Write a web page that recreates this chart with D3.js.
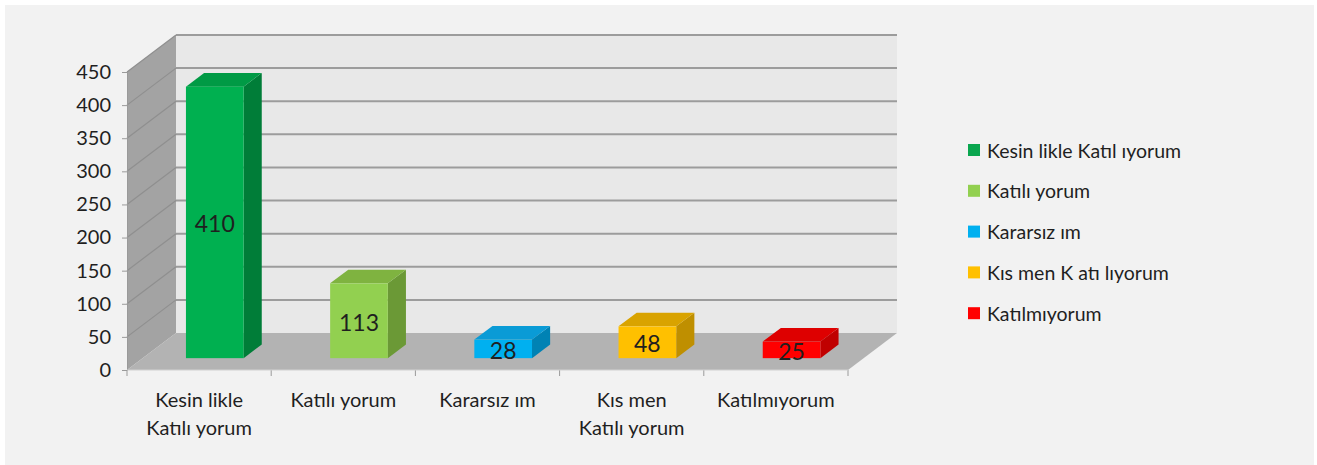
<!DOCTYPE html>
<html><head><meta charset="utf-8">
<script src="https://cdn.jsdelivr.net/npm/d3@7"></script>
<style>
body{margin:0;background:#fff}
svg{display:block}
text{font-family:Lato, "Open Sans", sans-serif;fill:#1f1f1f}
</style>
</head><body>
<svg id="c" width="1317" height="465"></svg>
<script>
// ---- data ----
const categories = [["Kesin likle","Katılı yorum"],["Katılı yorum"],["Kararsız ım"],["Kıs men","Katılı yorum"],["Katılmıyorum"]];
const values = [410, 113, 28, 48, 25];
const legendLabels = ["Kesin likle Katıl ıyorum","Katılı yorum","Kararsız ım","Kıs men K atı lıyorum","Katılmıyorum"];
const yTickValues = [0, 50, 100, 150, 200, 250, 300, 350, 400, 450];

// ---- styles ----
const frontColors = ["#00b050","#92d050","#00b0f0","#ffc000","#ff0000"];
const topColors   = ["#009a45","#7fb340","#0a9bd6","#d9a300","#de0000"];
const sideColors  = ["#007d38","#6b9936","#0082b4","#bf8f00","#c00000"];
const legendColors= ["#0aa64f","#92d050","#00b0f0","#ffc000","#ff0000"];

const svg = d3.select("#c");
svg.append("rect").attr("x",5).attr("y",5).attr("width",1309).attr("height",460).attr("fill","#f2f2f2");

const DX = 49, DY = -37;
const x = d3.scaleBand().domain(d3.range(categories.length)).range([127, 848]).padding(0);
const y = d3.scaleLinear().domain([0, 450]).range([370, 72]);
const P = (px, v, t) => [px + t*DX, y(v) + t*DY];
const poly = pts => pts.map(p => p.join(",")).join(" ");
const x0 = x.range()[0], x1 = x.range()[1];
const vMax = y.domain()[1];

// back wall
const bw0 = P(x0, vMax, 1), bw1 = P(x1, 0, 1);
svg.append("rect").attr("x", bw0[0]).attr("y", bw0[1]).attr("width", bw1[0]-bw0[0]).attr("height", bw1[1]-bw0[1]).attr("fill","#e8e8e8");
// left wall
svg.append("polygon").attr("points", poly([P(x0,vMax,0),P(x0,vMax,1),P(x0,0,1),P(x0,0,0)])).attr("fill","#a3a3a3");
// floor
svg.append("polygon").attr("points", poly([P(x0,0,0),P(x1,0,0),P(x1,0,1),P(x0,0,1)])).attr("fill","#b3b3b3");

// gridlines
yTickValues.forEach(v => {
  if (v > 0) {
    const a = P(x0, v, 1), b = P(x1, v, 1);
    svg.append("line").attr("x1",a[0]).attr("y1",a[1]).attr("x2",b[0]).attr("y2",b[1]).attr("stroke","#9c9c9c").attr("stroke-width",2);
    const c = P(x0, v, 0);
    svg.append("line").attr("x1",c[0]).attr("y1",c[1]).attr("x2",a[0]).attr("y2",a[1]).attr("stroke","#8f8f8f").attr("stroke-width",1.2);
  }
});

// y axis
const yAxis = svg.append("g").attr("transform", `translate(${x0},0)`)
  .call(d3.axisLeft(y).tickValues(yTickValues).tickSize(5).tickPadding(11).tickFormat(d3.format("d")));
yAxis.select(".domain").attr("stroke","#9a9a9a");
yAxis.selectAll(".tick line").attr("stroke","#9a9a9a");
yAxis.selectAll("text").attr("font-size",20).attr("font-family","Lato").attr("fill","#1f1f1f");

// x axis ticks
const bandEdges = d3.range(categories.length + 1).map(i => x0 + i*x.bandwidth());
svg.selectAll(".xt").data(bandEdges).enter().append("line")
  .attr("x1", d=>d).attr("x2", d=>d).attr("y1", y(0)).attr("y2", y(0)+6).attr("stroke","#9a9a9a");
svg.append("line").attr("x1",x0).attr("x2",x1).attr("y1",y(0)).attr("y2",y(0)).attr("stroke","#d0d0d0");

// category labels
categories.forEach((lines, i) => {
  const t = svg.append("text").attr("text-anchor","middle").attr("font-size",20)
    .attr("x", x(i) + x.bandwidth()/2).attr("y", 407);
  lines.forEach((ln, j) => t.append("tspan").attr("x", x(i) + x.bandwidth()/2).attr("dy", j===0 ? 0 : 28).text(ln));
});

// bars
const t0 = 0.32, t1 = 0.69;
const w = x.bandwidth() * 0.4;
values.forEach((v, i) => {
  const xl = x(i) + (x.bandwidth() - w)/2, xr = xl + w;
  const g = svg.append("g");
  g.append("polygon").attr("points", poly([P(xr,v,t0),P(xr,v,t1),P(xr,0,t1),P(xr,0,t0)])).attr("fill", sideColors[i]);
  g.append("polygon").attr("points", poly([P(xl,v,t0),P(xr,v,t0),P(xr,v,t1),P(xl,v,t1)])).attr("fill", topColors[i]);
  const a = P(xl, v, t0), b = P(xr, 0, t0);
  g.append("rect").attr("x", a[0]).attr("y", a[1]).attr("width", b[0]-a[0]).attr("height", b[1]-a[1]).attr("fill", frontColors[i]);
  g.append("text").attr("x", (a[0]+b[0])/2).attr("y", (a[1]+b[1])/2 + 1).attr("text-anchor","middle")
    .attr("dominant-baseline","central").attr("font-size",23).attr("fill","#161616").text(v);
});

// legend
const lg = svg.append("g");
legendLabels.forEach((l, i) => {
  const cy = 150 + i*40.8;
  lg.append("rect").attr("x",968).attr("y",cy-6).attr("width",12).attr("height",12).attr("fill",legendColors[i]);
  lg.append("text").attr("x",987).attr("y",cy).attr("dominant-baseline","central").attr("font-size",19.5).text(l);
});
</script>
</body></html>
